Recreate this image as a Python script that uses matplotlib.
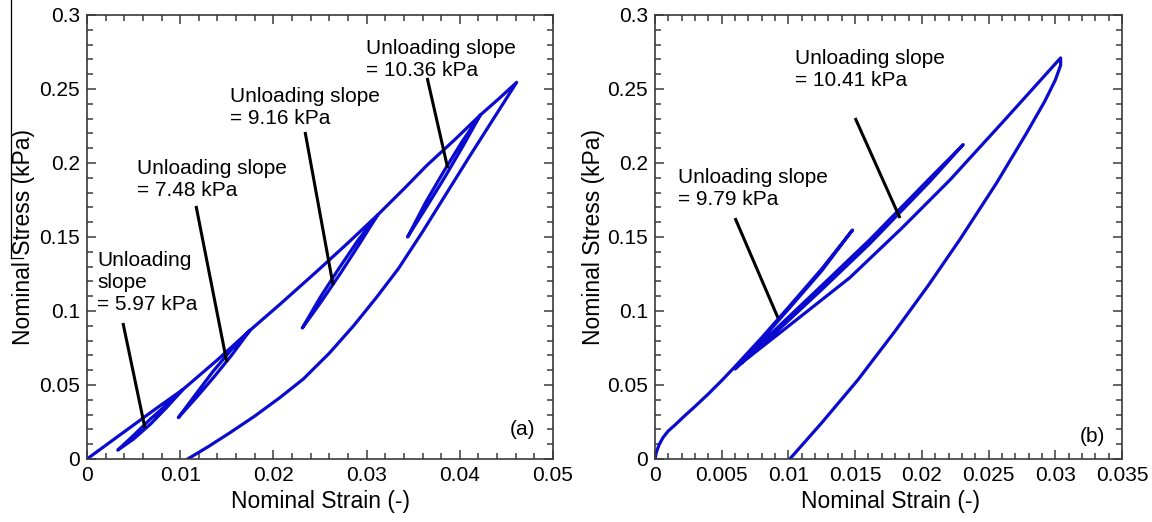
import numpy as np
import matplotlib
matplotlib.use("Agg")
import matplotlib.pyplot as plt
from matplotlib.ticker import MultipleLocator, FixedLocator, FixedFormatter
from matplotlib.lines import Line2D

plt.rcParams['font.family'] = ['Liberation Sans', 'DejaVu Sans']

# ---- panel (a): cyclic loading, path in test order (strain, stress) ----
a_load0 = [(0, 0), (0.0025, 0.0115), (0.005, 0.023), (0.0075, 0.0345), (0.0103, 0.047)]
a_unload1 = [(0.0103, 0.047), (0.0085, 0.0345), (0.0068, 0.0235), (0.005, 0.0135), (0.0033, 0.006)]
a_reload1 = [(0.0033, 0.006), (0.005, 0.016), (0.0068, 0.027), (0.0086, 0.037), (0.0103, 0.047)]
a_load1 = [(0.0103, 0.047), (0.014, 0.067), (0.0175, 0.087)]
a_unload2 = [(0.0175, 0.087), (0.0155, 0.070), (0.0137, 0.056), (0.0118, 0.042), (0.0098, 0.028)]
a_reload2 = [(0.0098, 0.028), (0.0117, 0.044), (0.0135, 0.059), (0.0155, 0.074), (0.0175, 0.087)]
a_load2 = [(0.0175, 0.087), (0.0207, 0.1045), (0.0247, 0.127), (0.028, 0.146), (0.0312, 0.165)]
a_unload3 = [(0.0312, 0.165), (0.0292, 0.145), (0.0272, 0.1255), (0.0251, 0.106), (0.0231, 0.0885)]
a_reload3 = [(0.0231, 0.0885), (0.025, 0.109), (0.027, 0.1285), (0.0291, 0.148), (0.0312, 0.165)]
a_load3 = [(0.0312, 0.165), (0.034, 0.1825), (0.0365, 0.1986), (0.0395, 0.216), (0.0422, 0.2324)]
a_unload4 = [(0.0422, 0.2324), (0.0403, 0.211), (0.0384, 0.1905), (0.0364, 0.170), (0.0344, 0.150)]
a_reload4 = [(0.0344, 0.150), (0.0363, 0.173), (0.0382, 0.1935), (0.0402, 0.214), (0.0422, 0.2324)]
a_load4 = [(0.0422, 0.2324), (0.0442, 0.2435), (0.0461, 0.2545)]
a_unload5 = [(0.0461, 0.2545), (0.041, 0.204), (0.036, 0.1535), (0.0334, 0.1285), (0.0311, 0.1095),
             (0.0286, 0.090), (0.026, 0.0715), (0.0232, 0.054), (0.0207, 0.0415), (0.018, 0.029),
             (0.0153, 0.0176), (0.013, 0.0083), (0.0108, 0)]
a_path = [a_load0, a_unload1, a_reload1, a_load1, a_unload2, a_reload2, a_load2,
          a_unload3, a_reload3, a_load3, a_unload4, a_reload4, a_load4, a_unload5]

a_labels = ["Unloading\nslope\n= 5.97 kPa", "Unloading slope\n= 7.48 kPa",
            "Unloading slope\n= 9.16 kPa", "Unloading slope\n= 10.36 kPa"]
a_label_xy = [(0.00107, 0.1193), (0.00536, 0.1889), (0.01534, 0.2375), (0.02994, 0.2699)]
a_pointers = [((0.00386, 0.0919), (0.00622, 0.0209)),
              ((0.0117, 0.171), (0.0150, 0.0655)),
              ((0.0234, 0.221), (0.0264, 0.1176)),
              ((0.0365, 0.2575), (0.0387, 0.1966))]

# ---- panel (b) ----
b_load0 = [(0, 0), (0.0001, 0.0045), (0.0003, 0.0095), (0.0006, 0.0145), (0.001, 0.019),
           (0.0015, 0.023), (0.0022, 0.029), (0.003, 0.0355), (0.004, 0.044), (0.005, 0.053),
           (0.0059, 0.0615), (0.008, 0.082), (0.01, 0.1025), (0.0125, 0.1285), (0.0148, 0.1547)]
b_unload1 = [(0.0148, 0.1547), (0.0125, 0.1272), (0.01, 0.1012), (0.008, 0.0808), (0.006, 0.0608)]
b_reload1 = [(0.006, 0.0608), (0.0094, 0.0885), (0.0125, 0.1145), (0.0161, 0.1455),
             (0.0206, 0.1875), (0.0231, 0.2124)]
b_unload2 = [(0.0231, 0.2124), (0.0206, 0.1897), (0.0161, 0.1482), (0.0125, 0.1172),
             (0.0094, 0.0907), (0.006, 0.0615)]
b_reload2 = [(0.006, 0.0615), (0.0094, 0.0855), (0.0146, 0.1225), (0.0185, 0.156),
             (0.0221, 0.1885), (0.0262, 0.229), (0.0304, 0.271)]
b_unload3 = [(0.0304, 0.271), (0.0304, 0.266), (0.03, 0.256), (0.0292, 0.2415), (0.0278, 0.2195),
             (0.0256, 0.1865), (0.0229, 0.149), (0.0205, 0.1175), (0.018, 0.0865),
             (0.0152, 0.0534), (0.0125, 0.0245), (0.0101, 0)]
b_path = [b_load0, b_unload1, b_reload1, b_unload2, b_reload2, b_unload3]

b_labels = ["Unloading slope\n= 9.79 kPa", "Unloading slope\n= 10.41 kPa"]
b_label_xy = [(0.00172, 0.1831), (0.01049, 0.2635)]
b_pointers = [((0.0060, 0.1628), (0.00922, 0.0953)),
              ((0.0150, 0.2304), (0.01836, 0.1628))]

y_ticks = [0, 0.05, 0.1, 0.15, 0.2, 0.25, 0.3]
y_ticklabels = ['0', '0.05', '0.1', '0.15', '0.2', '0.25', '0.3']
a_xticks = [0, 0.01, 0.02, 0.03, 0.04, 0.05]
a_xticklabels = ['0', '0.01', '0.02', '0.03', '0.04', '0.05']
b_xticks = [0, 0.005, 0.01, 0.015, 0.02, 0.025, 0.03, 0.035]
b_xticklabels = ['0', '0.005', '0.01', '0.015', '0.02', '0.025', '0.03', '0.035']

blue = '#0b0bd0'
spine_c = '#3a3a3a'

fig = plt.figure(figsize=(11.52, 5.22), dpi=100)
ax_a = fig.add_axes([87 / 1152, 1 - 459 / 522, 466 / 1152, 444 / 522])
ax_b = fig.add_axes([655 / 1152, 1 - 459 / 522, 467 / 1152, 444 / 522])


def draw_panel(ax, path, labels, label_xy, pointers, xticks, xticklabels, xmax, xminor, tag, tag_xy):
    xs = [p[0] for seg in path for p in seg]
    ys = [p[1] for seg in path for p in seg]
    ax.plot(xs, ys, color=blue, lw=2.3, solid_joinstyle='round', solid_capstyle='round')
    for (x0, y0), (x1, y1) in pointers:
        ax.plot([x0, x1], [y0, y1], color='black', lw=2.2, solid_capstyle='butt')
    for txt, (tx, ty) in zip(labels, label_xy):
        ax.text(tx, ty, txt, fontsize=15, ha='left', va='center', linespacing=1.2)
    ax.text(tag_xy[0], tag_xy[1], tag, fontsize=15, ha='right', va='center')

    ax.set_xlim(0, xmax)
    ax.set_ylim(0, 0.3)
    ax.xaxis.set_major_locator(FixedLocator(xticks))
    ax.xaxis.set_major_formatter(FixedFormatter(xticklabels))
    ax.yaxis.set_major_locator(FixedLocator(y_ticks))
    ax.yaxis.set_major_formatter(FixedFormatter(y_ticklabels))
    ax.xaxis.set_minor_locator(MultipleLocator(xminor))
    ax.yaxis.set_minor_locator(MultipleLocator(0.01))
    ax.tick_params(which='both', direction='in', top=True, right=True,
                   color=spine_c, labelsize=15, width=1.1)
    ax.tick_params(which='major', length=6.5, pad=5)
    ax.tick_params(which='minor', length=4)
    for s in ax.spines.values():
        s.set_color(spine_c)
        s.set_linewidth(1.2)
    ax.set_xlabel('Nominal Strain (-)', fontsize=16.5)
    ax.set_ylabel('Nominal Stress (kPa)', fontsize=16.5)


draw_panel(ax_a, a_path, a_labels, a_label_xy, a_pointers, a_xticks, a_xticklabels,
           0.05, 0.002, '(a)', (0.0481, 0.0196))
draw_panel(ax_b, b_path, b_labels, b_label_xy, b_pointers, b_xticks, b_xticklabels,
           0.035, 0.001, '(b)', (0.03373, 0.0155))

ax_a.yaxis.set_label_coords(-0.112, 0.5)
ax_b.yaxis.set_label_coords(-0.106, 0.5)
ax_a.xaxis.set_label_coords(0.502, -0.07)
ax_b.xaxis.set_label_coords(0.505, -0.07)

# thin border stub left over at the far left of the original figure
fig.add_artist(Line2D([11 / 1152, 11 / 1152], [1, 1 - 258 / 522], transform=fig.transFigure,
                      color='black', lw=0.9))
fig.add_artist(Line2D([11 / 1152, 23 / 1152], [1 - 258 / 522, 1 - 258 / 522],
                      transform=fig.transFigure, color='black', lw=0.9))

fig.savefig('out.png', dpi=100)
